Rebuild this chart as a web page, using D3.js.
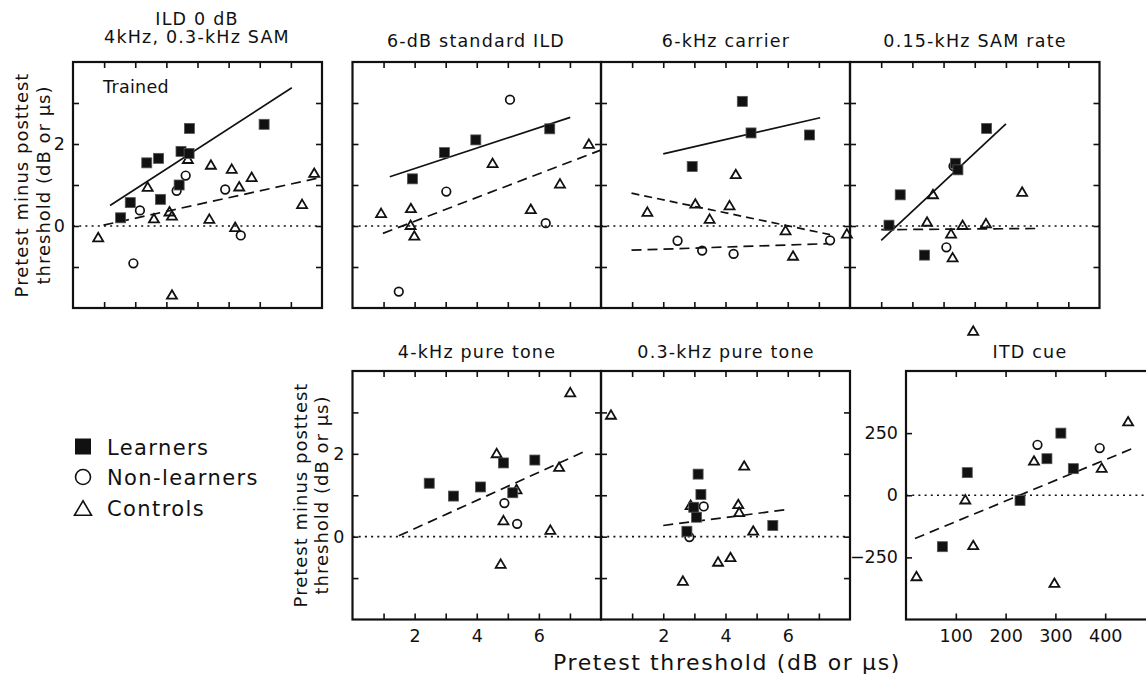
<!DOCTYPE html>
<html><head><meta charset="utf-8">
<script src="https://cdn.jsdelivr.net/npm/d3@7"></script>
<style>
body{margin:0;background:#fff}
svg{display:block}
text{font-family:"DejaVu Sans",sans-serif;fill:#111}
</style>
</head><body>
<svg id="chart" width="1146" height="675"></svg>
<script>
// ---------------- DATA ----------------
const panelTitles = [["ILD 0 dB","4kHz, 0.3-kHz SAM"],["6-dB standard ILD"],["6-kHz carrier"],["0.15-kHz SAM rate"],["4-kHz pure tone"],["0.3-kHz pure tone"],["ITD cue"]];
const groupNames = ["Learners","Non-learners","Controls"];
const dbTicks = [1,2,3,4,5,6,7];
const dbYTicks = [-1,0,1,2,3];
const dbXLabels = [2,4,6];
const dbYLabels = [0,2];
const itdXTicks = [100,200,300,400];
const itdYTicks = [-250,0,250];

const p1Learners = [[1.53,0.20],[1.84,0.57],[2.37,1.54],[2.75,1.65],[2.81,0.65],[3.41,1.00],[3.47,1.82],[3.73,1.77],[3.74,2.38],[6.14,2.48]];
const p1NonLearners = [[1.94,-0.91],[2.15,0.38],[3.33,0.86],[3.62,1.23],[4.89,0.89],[5.39,-0.23]];
const p1Controls = [[0.81,-0.27],[2.40,0.96],[2.60,0.19],[3.10,0.36],[3.18,0.26],[3.18,-1.67],[3.69,1.64],[4.43,1.50],[4.38,0.18],[5.10,1.40],[5.21,-0.02],[5.34,0.97],[5.74,1.20],[7.36,0.54],[7.75,1.30]];
const p1LearnersFit = [[1.19,0.50],[7.03,3.37]];
const p1ControlsFit = [[0.98,0.02],[7.94,1.18]];

const p2Learners = [[1.93,1.15],[2.96,1.79],[3.97,2.10],[6.35,2.37]];
const p2NonLearners = [[1.49,-1.60],[3.02,0.84],[5.07,3.08],[6.22,0.07]];
const p2Controls = [[0.92,0.32],[1.88,0.44],[1.87,0.03],[1.99,-0.23],[4.51,1.54],[5.74,0.42],[6.68,1.04],[7.61,2.01]];
const p2LearnersFit = [[1.20,1.20],[7.01,2.65]];
const p2ControlsFit = [[0.98,-0.18],[7.99,1.85]];

const p3Learners = [[2.93,1.45],[4.54,3.04],[4.82,2.27],[6.70,2.22]];
const p3NonLearners = [[2.46,-0.36],[3.25,-0.60],[4.26,-0.68],[7.36,-0.35]];
const p3Controls = [[1.49,0.35],[3.03,0.55],[3.49,0.18],[4.13,0.51],[4.33,1.27],[5.93,-0.10],[6.17,-0.72],[7.90,-0.18]];
const p3LearnersFit = [[2.00,1.76],[7.04,2.64]];
const p3NonLearnersFit = [[0.98,-0.59],[7.29,-0.43]];
const p3ControlsFit = [[0.98,0.80],[7.36,-0.21]];

const p4Learners = [[1.25,0.02],[1.61,0.76],[2.39,-0.71],[3.38,1.53],[3.46,1.37],[4.38,2.38]];
const p4NonLearners = [[3.32,1.46],[3.09,-0.52]];
const p4Controls = [[2.66,0.78],[2.47,0.11],[3.24,-0.18],[3.29,-0.76],[3.61,0.03],[4.36,0.07],[5.52,0.84],[3.95,-2.55]];
const p4LearnersFit = [[1.00,-0.35],[5.00,2.49]];
const p4ControlsFit = [[1.00,-0.09],[6.00,-0.06]];

const p5Learners = [[2.47,1.29],[3.25,0.98],[4.12,1.20],[4.86,1.78],[5.16,1.06],[5.87,1.85]];
const p5NonLearners = [[4.89,0.81],[5.30,0.31]];
const p5Controls = [[4.64,2.02],[4.86,0.40],[4.77,-0.65],[5.28,1.15],[6.37,0.17],[6.65,1.69],[7.01,3.49]];
const p5ControlsFit = [[1.49,0.02],[7.42,2.04]];

const p6Learners = [[3.12,1.51],[3.21,1.02],[2.98,0.71],[3.07,0.47],[2.76,0.13],[5.52,0.27]];
const p6NonLearners = [[3.30,0.73],[2.84,-0.01]];
const p6Controls = [[0.32,2.95],[2.88,0.77],[4.60,1.72],[4.41,0.79],[4.44,0.60],[4.89,0.15],[3.76,-0.60],[4.16,-0.49],[2.63,-1.06]];
const p6ControlsFit = [[2.00,0.27],[6.03,0.66]];

const p7Learners = [[73,-207],[123,91],[229,-21],[283,147],[311,250],[336,107]];
const p7NonLearners = [[264,203],[389,190]];
const p7Controls = [[21,-325],[119,-16],[135,-200],[257,140],[298,-352],[393,111],[446,298]];
const p7ControlsFit = [[18,-174],[462,194]];

// ---------------- LAYOUT ----------------
const layout = [
  {x:73,   y:62,  w:249, h:246, xd:[0,8], yd:[-2,4]},
  {x:352.5,y:62,  w:248.5,h:246, xd:[0,8], yd:[-2,4]},
  {x:601,  y:62,  w:249, h:246, xd:[0,8], yd:[-2,4]},
  {x:850,  y:62,  w:249.5,h:246, xd:[0,8], yd:[-2,4]},
  {x:352.5,y:371, w:248.5,h:248.5, xd:[0,8], yd:[-2,4]},
  {x:601,  y:371, w:249, h:248.5, xd:[0,8], yd:[-2,4]},
  {x:906,  y:371, w:249, h:248.5, xd:[0,500], yd:[-500,500]}
];

const panels = [
  {L:p1Learners,N:p1NonLearners,C:p1Controls,fits:[[p1LearnersFit,"solid"],[p1ControlsFit,"long"]],xt:dbTicks,yt:dbYTicks,xl:[],yl:dbYLabels},
  {L:p2Learners,N:p2NonLearners,C:p2Controls,fits:[[p2LearnersFit,"solid"],[p2ControlsFit,"long"]],xt:dbTicks,yt:dbYTicks,xl:[],yl:[]},
  {L:p3Learners,N:p3NonLearners,C:p3Controls,fits:[[p3LearnersFit,"solid"],[p3NonLearnersFit,"long"],[p3ControlsFit,"short"]],xt:dbTicks,yt:dbYTicks,xl:[],yl:[]},
  {L:p4Learners,N:p4NonLearners,C:p4Controls,fits:[[p4LearnersFit,"solid"],[p4ControlsFit,"long"]],xt:dbTicks,yt:dbYTicks,xl:[],yl:[]},
  {L:p5Learners,N:p5NonLearners,C:p5Controls,fits:[[p5ControlsFit,"long"]],xt:dbTicks,yt:dbYTicks,xl:dbXLabels,yl:dbYLabels},
  {L:p6Learners,N:p6NonLearners,C:p6Controls,fits:[[p6ControlsFit,"long"]],xt:dbTicks,yt:dbYTicks,xl:dbXLabels,yl:[]},
  {L:p7Learners,N:p7NonLearners,C:p7Controls,fits:[[p7ControlsFit,"long"]],xt:itdXTicks,yt:itdYTicks,xl:itdXTicks,yl:itdYTicks}
];

const svg = d3.select("#chart");
const ink = "#111";
const dashes = {solid:null,long:"10,6",short:"8,5"};

function triPath(s){ const h=s*0.85; return `M0,${-h/2}L${s/2},${h/2}L${-s/2},${h/2}Z`; }

panels.forEach((p,i)=>{
  const lo = layout[i];
  const x = d3.scaleLinear().domain(lo.xd).range([lo.x, lo.x+lo.w]);
  const y = d3.scaleLinear().domain(lo.yd).range([lo.y+lo.h, lo.y]);
  const g = svg.append("g");

  // zero dotted line
  g.append("line").attr("x1",x(lo.xd[0])).attr("x2",x(lo.xd[1])).attr("y1",y(0)).attr("y2",y(0))
    .attr("stroke",ink).attr("stroke-width",1.6).attr("stroke-dasharray","2,4.2");

  // axes (inward ticks on all four sides)
  const tl = 6;
  g.append("g").attr("transform",`translate(0,${lo.y+lo.h})`).call(d3.axisBottom(x).tickValues(p.xt).tickSizeInner(-tl).tickSizeOuter(0).tickFormat(d=>p.xl.includes(d)?d:"").tickPadding(10));
  g.append("g").attr("transform",`translate(0,${lo.y})`).call(d3.axisTop(x).tickValues(p.xt).tickSizeInner(-tl).tickSizeOuter(0).tickFormat(""));
  g.append("g").attr("transform",`translate(${lo.x},0)`).call(d3.axisLeft(y).tickValues(p.yt).tickSizeInner(-tl).tickSizeOuter(0).tickFormat(d=>p.yl.includes(d)?String(d).replace("-","\u2212"):"").tickPadding(8));
  g.append("g").attr("transform",`translate(${lo.x+lo.w},0)`).call(d3.axisRight(y).tickValues(p.yt).tickSizeInner(-tl).tickSizeOuter(0).tickFormat(""));
  g.selectAll(".domain").remove();
  g.selectAll(".tick line").attr("stroke",ink).attr("stroke-width",1.6);
  g.selectAll(".tick text").attr("font-size",17.5).attr("fill",ink).style("font-family",'"DejaVu Sans",sans-serif');

  // frame
  g.append("rect").attr("x",lo.x).attr("y",lo.y).attr("width",lo.w).attr("height",lo.h)
    .attr("fill","none").attr("stroke",ink).attr("stroke-width",2.2);

  // fit lines
  p.fits.forEach(([pts,style])=>{
    g.append("path").attr("d",d3.line().x(d=>x(d[0])).y(d=>y(d[1]))(pts))
      .attr("fill","none").attr("stroke",ink).attr("stroke-width",1.7).attr("stroke-dasharray",dashes[style]);
  });

  // markers
  g.selectAll(".c").data(p.C).join("path").attr("d",triPath(10))
    .attr("transform",d=>`translate(${x(d[0])},${y(d[1])})`).attr("fill","none").attr("stroke",ink).attr("stroke-width",1.8).attr("stroke-linejoin","miter");
  g.selectAll(".n").data(p.N).join("circle").attr("cx",d=>x(d[0])).attr("cy",d=>y(d[1])).attr("r",4.3)
    .attr("fill","none").attr("stroke",ink).attr("stroke-width",1.7);
  g.selectAll(".l").data(p.L).join("rect").attr("x",d=>x(d[0])-5).attr("y",d=>y(d[1])-5).attr("width",10).attr("height",10)
    .attr("fill",ink).attr("stroke","#555").attr("stroke-width",0.8);
});

// titles
const titlePos = [[197,25],[476,47],[726,47],[975,47],[477,358],[726,358],[1030,358]];
const titleStyle = t=>t.attr("text-anchor","middle").attr("font-size",17.5).attr("letter-spacing",1.2);
panelTitles.forEach((t,i)=>{
  t.forEach((line,k)=>{
    svg.append("text").attr("x",titlePos[i][0]).attr("y",titlePos[i][1]+k*18).call(titleStyle).text(line);
  });
});

svg.append("text").attr("x",103).attr("y",93).attr("font-size",17.5).attr("letter-spacing",0.3).text("Trained");

// y-axis labels
[[28,50,185],[307,328,495]].forEach(([b1,b2,cy])=>{
  svg.append("text").attr("transform",`translate(${b1},${cy}) rotate(-90)`).attr("text-anchor","middle").attr("font-size",18).attr("letter-spacing",1).text("Pretest minus posttest");
  svg.append("text").attr("transform",`translate(${b2},${cy}) rotate(-90)`).attr("text-anchor","middle").attr("font-size",18).attr("letter-spacing",1).text("threshold (dB or \u03BCs)");
});

// x-axis label
svg.append("text").attr("x",727).attr("y",670).attr("text-anchor","middle").attr("font-size",22).attr("letter-spacing",1.6).text("Pretest threshold (dB or \u03BCs)");

// legend
const leg = svg.append("g");
const legY = [446.5,477,508];
leg.append("rect").attr("x",75).attr("y",legY[0]-8).attr("width",16).attr("height",16).attr("fill",ink);
leg.append("circle").attr("cx",83).attr("cy",legY[1]).attr("r",7.5).attr("fill","none").attr("stroke",ink).attr("stroke-width",1.6);
leg.append("path").attr("d",triPath(17)).attr("transform",`translate(83,${legY[2]})`).attr("fill","none").attr("stroke",ink).attr("stroke-width",1.6);
groupNames.forEach((n,i)=>{
  leg.append("text").attr("x",107).attr("y",legY[i]+8).attr("font-size",21).attr("letter-spacing",1.4).text(n);
});
</script>
</body></html>
